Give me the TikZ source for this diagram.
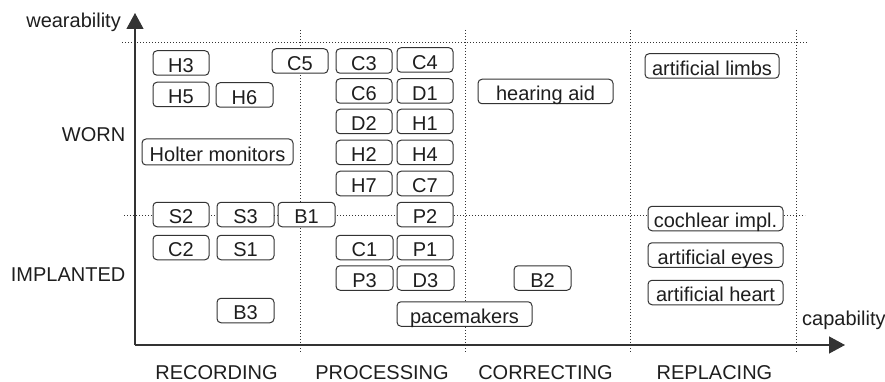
\documentclass[tikz,border=0pt]{standalone}
\usepackage{fontspec}
\setmainfont{Liberation Sans}
\usetikzlibrary{arrows.meta}
\definecolor{ln}{HTML}{333333}
\definecolor{tx}{HTML}{1E1E1E}
\begin{document}
\begin{tikzpicture}[x=1pt,y=-1pt,
  lbl/.style={font=\fontsize{20}{24}\selectfont, text=tx, inner sep=0pt},
  dev/.style={draw=ln, line width=1pt, fill=white, rounded corners=4pt,
    font=\fontsize{20}{24}\selectfont, text=tx, inner sep=0pt,
    minimum width=56pt, text height=21.5pt, text depth=3pt, align=center},
  grid/.style={draw=ln, line width=1pt, dash pattern=on 1pt off 2pt},
  axis/.style={draw=ln, line width=1.2pt, -{Triangle[length=16pt,width=17pt]}}]
\useasboundingbox (0,0) rectangle (885,382);
% grid
\draw[grid] (122,43) -- (807,43);
\draw[grid] (124,215) -- (805,215);
\foreach \x in {300,465,630,796} \draw[grid] (\x,30) -- (\x,352);
% axes
\coordinate (origin) at (135,345);
\coordinate (ytip) at (135,13);
\coordinate (xtip) at (845,345);
\draw[axis] (origin) -- (ytip);
\draw[axis] (origin) -- (xtip);
% axis labels
\node[lbl, anchor=base east] (wear) at (121,28) {wearability};
\node[lbl, anchor=base west] (cap) at (802,325) {capability};
\node[lbl, anchor=base east] (worn) at (125.5,142) {WORN};
\node[lbl, anchor=base east] (impl) at (125.5,281) {IMPLANTED};
\node[lbl, anchor=base] (rec) at (216.5,379.5) {RECORDING};
\node[lbl, anchor=base] (proc) at (382,379.5) {PROCESSING};
\node[lbl, anchor=base] (corr) at (545.5,379.5) {CORRECTING};
\node[lbl, anchor=base] (repl) at (714.5,379.5) {REPLACING};
% devices
\node[dev] (H3) at (181,63) {H3};
\node[dev] (H5) at (181,94.5) {H5};
\node[dev, minimum width=57pt] (H6) at (244.5,95) {H6};
\node[dev, minimum width=151pt, text height=23pt] (holter) at (217.5,152) {Holter monitors};
\node[dev] (C5) at (300,61) {C5};
\node[dev] (C3) at (364,61) {C3};
\node[dev] (C4) at (425,60) {C4};
\node[dev] (C6) at (364,91) {C6};
\node[dev] (D1) at (425,91) {D1};
\node[dev] (D2) at (364,121.5) {D2};
\node[dev] (H1) at (425,121.5) {H1};
\node[dev] (H2) at (364,152.5) {H2};
\node[dev] (H4) at (425,152.5) {H4};
\node[dev] (H7) at (364,183.5) {H7};
\node[dev] (C7) at (425,183.5) {C7};
\node[dev] (S2) at (181,214.5) {S2};
\node[dev, minimum width=57pt] (S3) at (245.5,214.5) {S3};
\node[dev, minimum width=57pt] (B1) at (306.5,214.5) {B1};
\node[dev] (P2) at (425,214.5) {P2};
\node[dev] (C2) at (181,247.5) {C2};
\node[dev, minimum width=57pt] (S1) at (245.5,247.5) {S1};
\node[dev, minimum width=57pt] (C1) at (364.5,247.5) {C1};
\node[dev] (P1) at (425,247.5) {P1};
\node[dev, minimum width=57pt] (P3) at (364.5,278) {P3};
\node[dev, minimum width=57pt] (D3) at (425.5,278) {D3};
\node[dev, minimum width=57pt] (B2) at (542.5,278) {B2};
\node[dev, minimum width=57pt] (B3) at (245.5,310.5) {B3};
\node[dev, minimum width=135pt] (pace) at (464.5,314) {pacemakers};
\node[dev, minimum width=135pt] (hear) at (545.5,91.5) {hearing aid};
\node[dev, minimum width=134pt] (limbs) at (712,66) {artificial limbs};
\node[dev, minimum width=135pt] (coch) at (715.5,218.5) {cochlear impl.};
\node[dev, minimum width=135pt] (eyes) at (715.5,255) {artificial eyes};
\node[dev, minimum width=135pt] (heart) at (715.5,292.5) {artificial heart};
\end{tikzpicture}
\end{document}
